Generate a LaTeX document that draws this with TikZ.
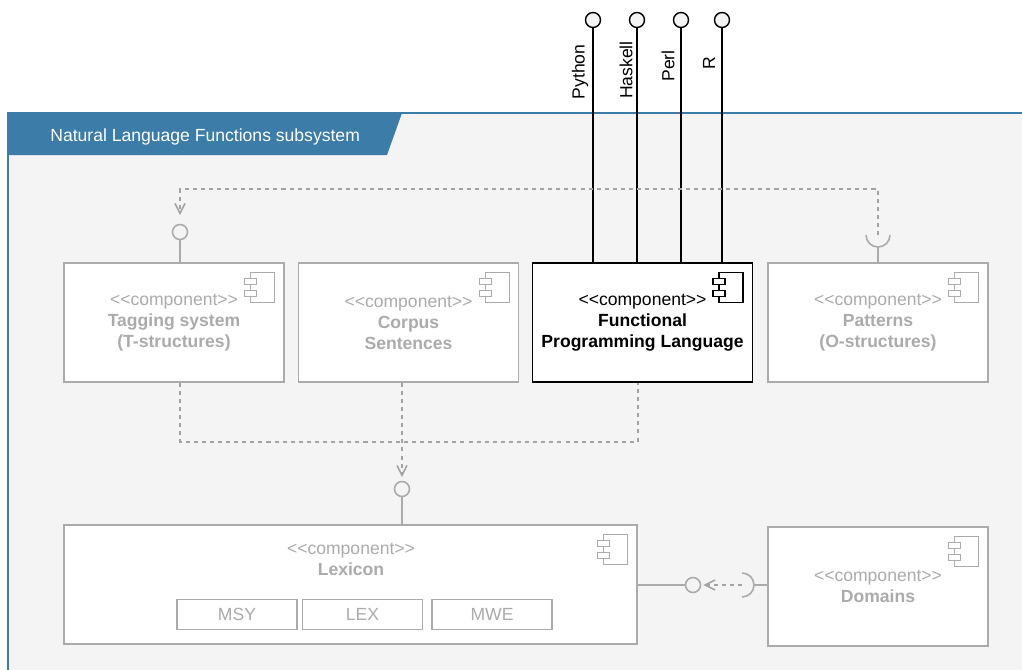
\documentclass[tikz,border=0pt]{standalone}
\usepackage{fontspec}
\setmainfont{Liberation Sans}
\usepackage{xcolor}
\usetikzlibrary{arrows.meta}

\definecolor{frameblue}{HTML}{3B7CA8}
\definecolor{framefill}{HTML}{F4F4F4}
\definecolor{compgray}{HTML}{ABABAB}
\definecolor{linegray}{HTML}{A3A3A3}

\newcommand{\stereo}{<\kern0pt<\kern0pt component>\kern0pt>}
\newcommand{\compicon}[2]{%
  \begin{scope}[shift={(#1.north east)}, line width=0.8pt]
    \draw[#2, fill=white] (-34,-10) rectangle (-10,-40);
    \draw[#2, fill=white] (-40,-16) rectangle (-28,-22);
    \draw[#2, fill=white] (-40,-28) rectangle (-28,-34);
  \end{scope}}

\tikzset{
  comp/.style={draw=compgray, fill=white, line width=0.9pt, minimum width=4.4cm,
    minimum height=2.38cm, align=center, text=compgray, inner sep=0pt},
  compon/.style={comp, draw=black, text=black, line width=0.8pt},
  part/.style={draw=compgray, fill=white, line width=0.9pt, minimum width=2.4cm,
    minimum height=0.6cm, text=compgray, inner sep=0pt},
  pop/.style={circle, draw=compgray, fill=framefill, line width=0.9pt,
    inner sep=0pt, minimum size=0.3cm},
  port/.style={circle, draw=black, fill=framefill, line width=0.8pt,
    inner sep=0pt, minimum size=0.3cm},
  portlab/.style={rotate=90, inner sep=0pt},
  wire/.style={draw=compgray, line width=0.9pt},
  dep/.style={draw=linegray, line width=0.9pt, dash pattern=on 2.3pt off 2.3pt},
  barb/.style={-{Straight Barb[length=2mm, width=2mm]}},
}

\begin{document}
\begin{tikzpicture}[x=0.02cm, y=0.02cm]
    \useasboundingbox (0,0) rectangle (1022,-670);

    % subsystem frame
    \fill[framefill] (8,-113) rectangle (1022,-670);
    \draw[frameblue, line width=1pt] (1022,-113) -- (8,-113) -- (8,-670);
    \fill[frameblue] (8,-113) -- (402,-113) -- (387,-155) -- (8,-155) -- cycle;
    \node[anchor=west, inner sep=0pt, text=white] (title) at (50,-137) {Natural Language Functions subsystem};

    % components
    \node[comp] (tag) at (174,-322.5) {\stereo\\\textbf{Tagging system}\\\textbf{(T-structures)}};
    \node[comp] (corpus) at (408.5,-322.5) {\stereo\\\textbf{Corpus}\\\textbf{Sentences}};
    \node[compon] (fpl) at (642.5,-322.5) {\stereo\\\textbf{Functional}\\\textbf{Programming Language}};
    \node[comp] (patterns) at (878,-322.5) {\stereo\\\textbf{Patterns}\\\textbf{(O-structures)}};
    \node[comp, minimum width=11.46cm] (lexicon) at (350.5,-584.5) {};
    \node[align=center, text=compgray, inner sep=0pt] (lextxt) at (351,-559) {\stereo\\\textbf{Lexicon}};
    \node[comp] (domains) at (878,-586.5) {\stereo\\\textbf{Domains}};

    \node[part] (msy) at (237,-614.5) {MSY};
    \node[part] (lex) at (362.5,-614.5) {LEX};
    \node[part] (mwe) at (492,-614.5) {MWE};

    \compicon{tag}{compgray}
    \compicon{corpus}{compgray}
    \compicon{fpl}{black}
    \compicon{patterns}{compgray}
    \compicon{lexicon}{compgray}
    \compicon{domains}{compgray}

    % provided ports of the language component
    \node[port] (py) at (593,-20) {};
    \node[port] (hs) at (637,-20) {};
    \node[port] (pl) at (681,-20) {};
    \node[port] (rr) at (722,-20) {};
    \draw[line width=0.8pt] (py) -- (py |- fpl.north);
    \draw[line width=0.8pt] (hs) -- (hs |- fpl.north);
    \draw[line width=0.8pt] (pl) -- (pl |- fpl.north);
    \draw[line width=0.8pt] (rr) -- (rr |- fpl.north);
    \node[portlab] (pylab) at (580,-72) {Python};
    \node[portlab] (hslab) at (626,-70) {Haskell};
    \node[portlab] (pllab) at (668,-66) {Perl};
    \node[portlab] (rrlab) at (709,-63) {R};

    % interfaces
    \node[pop] (tagpop) at (180,-232) {};
    \draw[wire] (tagpop) -- (tagpop |- tag.north);
    \coordinate (patsock) at (878,-235);
    \draw[wire] ([xshift=-0.24cm]patsock) arc[start angle=180, end angle=360, radius=0.24cm];
    \draw[wire] ([yshift=-0.24cm]patsock) -- (patsock |- patterns.north);

    \node[pop] (lexpop) at (402,-489) {};
    \draw[wire] (lexpop) -- (lexpop |- lexicon.north);

    \node[pop] (dompop) at (693,-585) {};
    \draw[wire] (dompop -| lexicon.east) -- (dompop);
    \coordinate (domsock) at (742,-585);
    \draw[wire] ([yshift=0.24cm]domsock) arc[start angle=90, end angle=-90, radius=0.24cm];
    \draw[wire] ([xshift=0.24cm]domsock) -- (domsock -| domains.west);

    % dependencies
    \draw[dep, barb, shorten >=0.17cm] (patsock) -- ++(0,46) -| (tagpop);
    \draw[dep] (tagpop |- tag.south) -- ++(0,-59) -| ([xshift=-0.09cm]fpl.south);
    \draw[dep, barb, shorten >=0.07cm] (lexpop |- corpus.south) -- (lexpop);
    \draw[dep, barb, shorten >=0.04cm] (domsock) -- (dompop);
  \end{tikzpicture}
\end{document}
